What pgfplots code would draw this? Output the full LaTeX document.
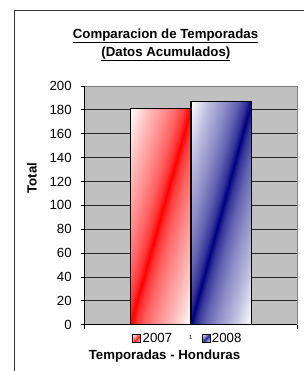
\documentclass[border=0pt]{standalone}
\usepackage{pgfplots}
\pgfplotsset{compat=1.18}
\usepackage{fontspec}
\setmainfont{Liberation Sans}
\definecolor{bg}{HTML}{C0C0C0}
\definecolor{navy}{HTML}{000080}
\definecolor{redc}{HTML}{FF0000}
\pgfdeclarehorizontalshading{redstripe}{100bp}{color(0bp)=(white); color(14.6bp)=(white); color(25bp)=(redc!25); color(35bp)=(redc!45); color(42bp)=(redc!62); color(47bp)=(redc!80); color(50bp)=(redc); color(53bp)=(redc!80); color(58bp)=(redc!62); color(65bp)=(redc!45); color(75bp)=(redc!25); color(85.4bp)=(white); color(100bp)=(white)}
\pgfdeclarehorizontalshading{bluestripe}{100bp}{color(0bp)=(white); color(14.6bp)=(white); color(25bp)=(navy!25); color(35bp)=(navy!45); color(42bp)=(navy!62); color(47bp)=(navy!80); color(50bp)=(navy); color(53bp)=(navy!80); color(58bp)=(navy!62); color(65bp)=(navy!45); color(75bp)=(navy!25); color(85.4bp)=(white); color(100bp)=(white)}
\tikzset{stripe/.style={path picture={%
  \pgfpointanchor{path picture bounding box}{south west}\pgfgetlastxy{\sx}{\sy}%
  \pgfpointanchor{path picture bounding box}{north east}\pgfgetlastxy{\ex}{\ey}%
  \pgfmathsetmacro\scx{(\ex-\sx)/50.1875}%
  \pgfmathsetmacro\scy{(\ey-\sy)/50.1875}%
  \begin{pgfscope}%
    \pgftransformshift{\pgfpoint{0.5*\sx+0.5*\ex}{0.5*\sy+0.5*\ey}}%
    \pgftransformxscale{\scx}\pgftransformyscale{\scy}%
    \pgftransformrotate{-45}%
    \pgflowlevelsynccm
    \pgftext{\pgfuseshading{#1}}%
  \end{pgfscope}}}}
\pgfplotsset{sqlegend/.style={legend image code/.code={\draw[##1, draw=black, line width=0.8bp] (0bp,-4bp) rectangle (8bp,4bp);}}}
\begin{document}
\begin{tikzpicture}[x=1bp,y=1bp]
\useasboundingbox (0,0) rectangle (304,371);
\draw[line width=1bp, black!80] (14.5,-5) -- (14.5,360.5) -- (310,360.5);
\begin{axis}[
  at={(84.7bp,46.3bp)}, anchor=south west,
  scale only axis, width=212.3bp, height=238.7bp,
  xmin=0.5, xmax=1.5, ymin=0, ymax=200,
  ybar=0pt, bar width=60.5bp,
  ytick={0,20,...,200},
  xtick={0.5,1.5}, xticklabels={},
  extra x ticks={1}, extra x tick labels={1},
  extra x tick style={major tick length=0pt, xticklabel style={font=\fontsize{6}{7}\selectfont, yshift=-7bp}},
  ymajorgrids, grid style={black!85, line width=0.8bp},
  axis background/.style={fill=bg},
  axis lines*=left,
  axis line style={black, line width=0.8bp},
  tick style={black, line width=0.8bp},
  tick align=outside, major tick length=4bp,
  tick label style={font=\fontsize{13.3}{16}\selectfont},
  yticklabel style={xshift=-5.5bp},
  /pgf/number format/assume math mode=true,
  clip=false,
  legend columns=2,
  legend style={at={(0.485,-0.058)}, anchor=center, draw=none, fill=none,
    font=\fontsize{13.3}{16}\selectfont, nodes={inner sep=1.5bp},
    /tikz/every even column/.append style={column sep=28bp}},
]
\draw[gray, line width=0.8bp] (rel axis cs:0,1) -- (rel axis cs:1,1) -- (rel axis cs:1,0);
\addplot[draw=black, line width=1.3bp, stripe=redstripe, sqlegend]
  coordinates {(1,181)};
\addlegendentry{2007}
\addplot[draw=black, line width=1.3bp, stripe=bluestripe, sqlegend]
  coordinates {(1,187)};
\addlegendentry{2008}
\end{axis}
\node[anchor=base, font=\bfseries\fontsize{13.3}{16}\selectfont] at (165.5,332.5) {\underline{Comparacion de Temporadas}};
\node[anchor=base, font=\bfseries\fontsize{13.3}{16}\selectfont] at (165.9,315) {\underline{(Datos Acumulados)}};
\node[rotate=90, font=\bfseries\fontsize{13.3}{16}\selectfont] at (32,193) {Total};
\node[anchor=base, font=\bfseries\fontsize{13.3}{16}\selectfont] at (164.5,11.5) {Temporadas - Honduras};
\end{tikzpicture}
\end{document}
